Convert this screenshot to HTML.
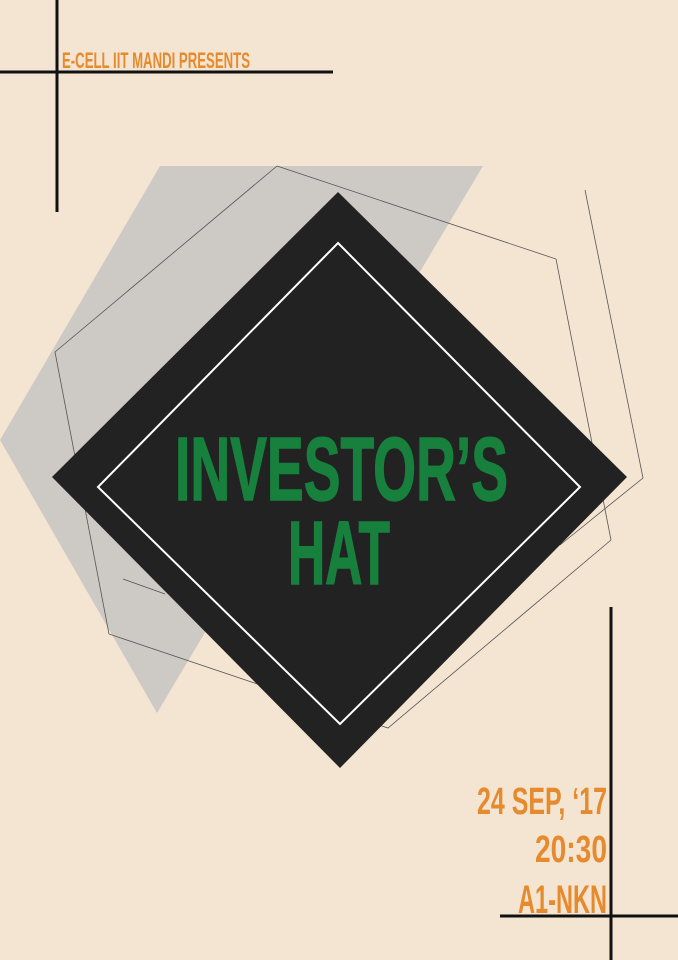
<!DOCTYPE html>
<html><head><meta charset="utf-8"><style>
html,body{margin:0;padding:0;background:#f4e5d3}
svg{display:block}
text{font-family:"Liberation Sans Narrow","Liberation Sans",sans-serif;font-weight:bold}
</style></head><body>
<svg width="678" height="960" viewBox="0 0 678 960">
<rect width="678" height="960" fill="#f4e5d3"/>
<polygon points="160,166 483,166 157,713 0,440" fill="#cdc9c4"/>
<polyline points="277,166 556,259 611,540 388,728 109,634 55,352 277,166" fill="none" stroke="#555" stroke-width="0.8"/>
<polyline points="585,190 643,478 560,545" fill="none" stroke="#555" stroke-width="0.8"/>
<line x1="123" y1="579" x2="165" y2="594" stroke="#555" stroke-width="0.8"/>
<polygon points="338,192 627,477 340,768 52,477" fill="#222"/>
<polygon points="338,243 580,487 340,724 98,487" fill="none" stroke="#fff" stroke-width="2"/>
<text x="175" y="500" font-size="90" fill="#16803c" stroke="#16803c" stroke-width="1.5" textLength="333" lengthAdjust="spacingAndGlyphs">INVESTOR’S</text>
<text x="288" y="584" font-size="90" fill="#16803c" stroke="#16803c" stroke-width="1.5" textLength="102" lengthAdjust="spacingAndGlyphs">HAT</text>
<line x1="57" y1="0" x2="57" y2="212" stroke="#111" stroke-width="3"/>
<line x1="0" y1="72" x2="333" y2="72" stroke="#111" stroke-width="3"/>
<text x="62" y="68" font-size="22" fill="#e68a2e" textLength="188" lengthAdjust="spacingAndGlyphs">E-CELL IIT MANDI PRESENTS</text>
<line x1="611" y1="607" x2="611" y2="960" stroke="#111" stroke-width="3"/>
<line x1="500" y1="916" x2="678" y2="916" stroke="#111" stroke-width="3"/>
<text x="477" y="814" font-size="38" fill="#e68a2e" textLength="130" lengthAdjust="spacingAndGlyphs">24 SEP, ‘17</text>
<text x="535" y="862" font-size="38" fill="#e68a2e" textLength="72" lengthAdjust="spacingAndGlyphs">20:30</text>
<text x="518" y="913" font-size="40" fill="#e68a2e" textLength="89" lengthAdjust="spacingAndGlyphs">A1-NKN</text>
</svg>
</body></html>
